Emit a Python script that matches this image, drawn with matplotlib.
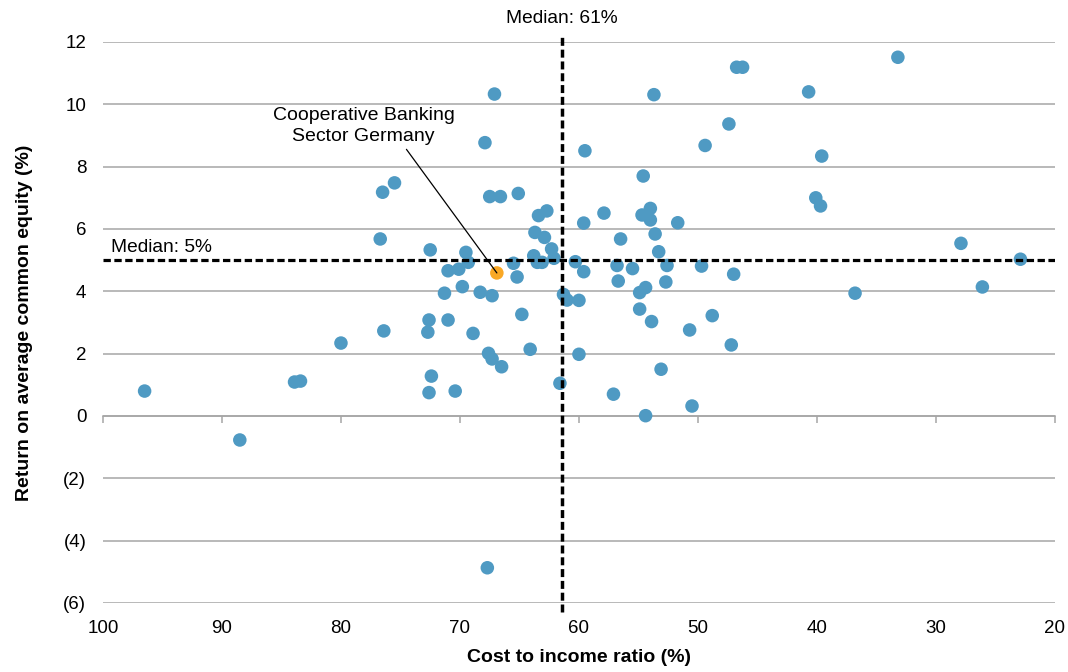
import matplotlib.pyplot as plt
from matplotlib.ticker import FuncFormatter

plt.rcParams['font.family'] = ['Liberation Sans', 'DejaVu Sans']

# Peer banks: cost to income ratio (%) vs return on average common equity (%)
cost_income = [
    96.5, 88.5, 83.9, 83.4, 80.0, 76.5, 75.5, 76.7, 76.4, 72.5,
    72.6, 72.7, 72.4, 72.6, 70.4, 71.0, 71.3, 71.0, 70.1, 69.8,
    69.5, 69.3, 68.3, 67.3, 68.9, 67.6, 67.3, 66.5, 67.9, 67.1,
    67.5, 66.6, 65.1, 65.5, 65.2, 64.8, 64.1, 63.4, 62.7, 63.7,
    62.9, 62.3, 62.1, 63.8, 63.5, 63.1, 61.6, 61.3, 61.0, 60.0,
    60.0, 60.3, 59.6, 59.6, 59.5, 67.7,
    57.9, 54.6, 54.7, 54.0, 54.0, 51.7, 56.5, 53.6, 53.3, 56.8,
    55.5, 52.6, 49.7, 47.0, 56.7, 52.7, 54.4, 54.9, 54.9, 53.9,
    50.7, 48.8, 47.2, 53.1, 57.1, 50.5, 54.4, 53.7, 46.75, 46.25,
    33.2, 40.7, 47.4, 49.4, 39.6, 40.1, 39.7, 27.9, 22.9, 26.1,
    36.8,
]
roe = [
    0.80, -0.77, 1.09, 1.12, 2.34, 7.18, 7.48, 5.68, 2.73, 5.33,
    3.08, 2.69, 1.28, 0.75, 0.80, 3.08, 3.94, 4.66, 4.71, 4.15,
    5.25, 4.93, 3.97, 3.86, 2.65, 2.01, 1.83, 1.58, 8.77, 10.33,
    7.04, 7.04, 7.14, 4.90, 4.46, 3.26, 2.14, 6.43, 6.58, 5.89,
    5.73, 5.36, 5.06, 5.14, 4.93, 4.93, 1.05, 3.90, 3.72, 3.71,
    1.98, 4.95, 4.63, 6.19, 8.51, -4.87,
    6.51, 7.70, 6.45, 6.66, 6.29, 6.20, 5.68, 5.84, 5.27, 4.83,
    4.73, 4.83, 4.81, 4.55, 4.33, 4.30, 4.12, 3.96, 3.43, 3.03,
    2.76, 3.22, 2.28, 1.50, 0.70, 0.32, 0.01, 10.31, 11.19, 11.19,
    11.51, 10.40, 9.37, 8.68, 8.34, 7.00, 6.74, 5.54, 5.03, 4.14,
    3.94,
]

coop_cost_income = 66.9
coop_roe = 4.59
coop_label = 'Cooperative Banking\nSector Germany'

median_cost_income = 61.4
median_roe = 5.0

x_ticks = [100, 90, 80, 70, 60, 50, 40, 30, 20]
y_ticks = [-6, -4, -2, 0, 2, 4, 6, 8, 10, 12]

blue = '#4f9ac3'
orange = '#f9a825'
grey = '#a6a6a6'

fig = plt.figure(figsize=(10.68, 6.72), dpi=100)
ax = fig.add_axes([0.0964, 0.1027, 0.8914, 0.8348])

ax.set_xlim(100, 20)
ax.set_ylim(-6, 12)

# horizontal gridlines only
ax.set_yticks(y_ticks)
ax.yaxis.grid(True, color=grey, lw=1.1)
ax.set_axisbelow(True)
for side in ['top', 'right', 'left']:
    ax.spines[side].set_visible(False)

# category axis crosses at zero, labels stay at the bottom
ax.spines['bottom'].set_position(('data', 0))
ax.spines['bottom'].set_color(grey)
ax.spines['bottom'].set_linewidth(1.1)
ax.set_xticks(x_ticks)
ax.tick_params(axis='x', direction='out', length=5, width=1.1, color=grey,
               labelbottom=False)

sec = ax.secondary_xaxis('bottom')
sec.set_xticks(x_ticks)
sec.tick_params(length=0, pad=12, labelsize=13.5)
sec.spines['bottom'].set_visible(False)
sec.set_xlabel('Cost to income ratio (%)', fontsize=14, fontweight='bold',
               labelpad=9)

ax.yaxis.set_major_formatter(FuncFormatter(
    lambda v, _: f'({abs(int(v))})' if v < 0 else f'{int(v)}'))
ax.tick_params(axis='y', length=0, pad=12, labelsize=13.5)
ax.set_ylabel('Return on average common equity (%)', fontsize=14,
              fontweight='bold', labelpad=22)

# points
ax.scatter(cost_income, roe, s=95, color=blue, edgecolors='none', zorder=3)
ax.scatter([coop_cost_income], [coop_roe], s=95, color=orange,
           edgecolors='none', zorder=3)

# median lines
dash = (0, (2.3, 1.1))
ax.axvline(median_cost_income, ymin=-0.016, ymax=1.009, color='black',
           lw=2.5, ls=dash, clip_on=False, zorder=4)
ax.axhline(median_roe, color='black', lw=2.3, ls=dash, zorder=4)

ax.text(median_cost_income, 12.6, f'Median: {median_cost_income:.0f}%',
        ha='center', va='baseline', fontsize=13.8)
ax.text(99.3, 5.25, f'Median: {median_roe:.0f}%', ha='left', va='baseline',
        fontsize=13.8)

ax.annotate(coop_label, xy=(coop_cost_income, coop_roe), xytext=(78.1, 9.3),
            ha='center', va='center', fontsize=14, linespacing=1.35,
            arrowprops=dict(arrowstyle='-', color='black', lw=0.9,
                            relpos=(0.72, 0.0), shrinkA=1, shrinkB=0))

fig.savefig('out.png', dpi=100)
